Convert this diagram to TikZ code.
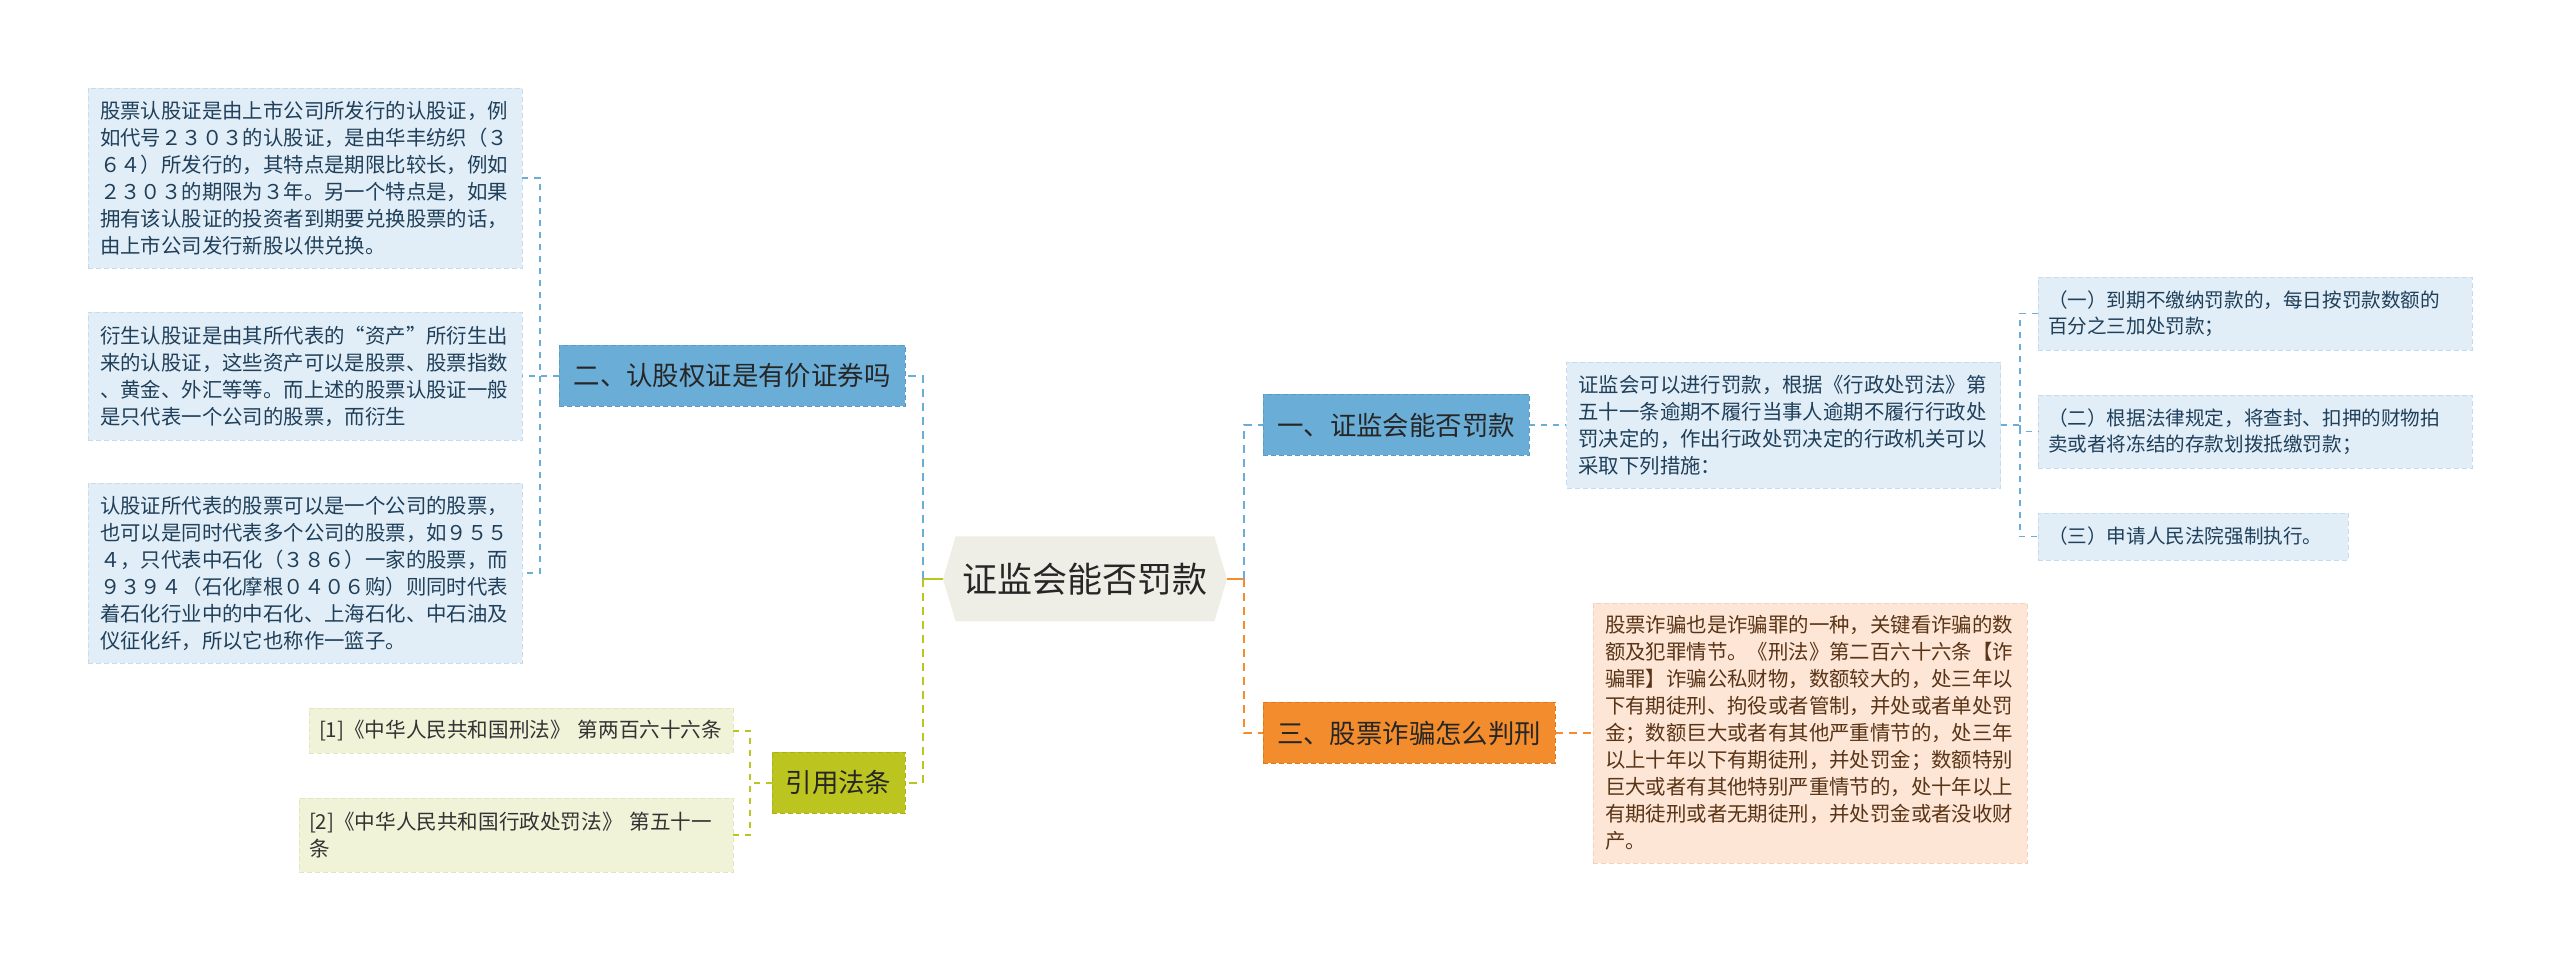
\documentclass[tikz,border=0pt]{standalone}
\usepackage{fontspec}
\setmainfont{Noto Sans CJK SC}
\usetikzlibrary{shapes.symbols, positioning}
\definecolor{paleblue}{HTML}{E1EEF7}
\definecolor{paleblueedge}{HTML}{C6DCEC}
\definecolor{bluetext}{HTML}{1F3F5A}
\definecolor{branchblue}{HTML}{6AADD6}
\definecolor{branchblueedge}{HTML}{5A9BC6}
\definecolor{olivegreen}{HTML}{BCC51F}
\definecolor{oliveedge}{HTML}{A9B114}
\definecolor{paleolive}{HTML}{F1F3D9}
\definecolor{paleoliveedge}{HTML}{E2E6BF}
\definecolor{branchorange}{HTML}{F28C2C}
\definecolor{orangeedge}{HTML}{E07818}
\definecolor{peach}{HTML}{FDE6D6}
\definecolor{peachedge}{HTML}{F4D1BA}
\definecolor{browntext}{HTML}{5A3416}
\definecolor{rootfill}{HTML}{EEEEE6}

\begin{document}
\begin{tikzpicture}[x=0.5pt, y=-0.5pt,
    box/.style={draw, dashed, dash pattern=on 2.5pt off 1.5pt, line width=0.4pt, align=left, inner ysep=0pt},
    detail/.style={box, fill=paleblue, draw=paleblueedge, text=bluetext, font=\fontsize{10.2}{13.5}\selectfont, inner xsep=6pt, text width=205pt},
    item/.style={box, fill=paleblue, draw=paleblueedge, text=bluetext, font=\fontsize{9.8}{13.2}\selectfont, inner xsep=5pt},
    law/.style={box, fill=paleolive, draw=paleoliveedge, text=black!80, font=\fontsize{10.3}{13.8}\selectfont, inner xsep=5pt},
    branch/.style={box, align=center, font=\fontsize{13.2}{16}\selectfont, text=black!85, minimum height=30.5pt},
    bluesub/.style={draw=branchblue, dashed, dash pattern=on 3pt off 3pt, line width=0.7pt},
    bluemain/.style={draw=branchblue, dashed, dash pattern=on 4pt off 3pt, line width=1.3pt},
    olivesub/.style={draw=olivegreen, dashed, dash pattern=on 3pt off 3pt, line width=0.7pt},
    olivemain/.style={draw=olivegreen, dashed, dash pattern=on 4pt off 3pt, line width=1.3pt},
    orangesub/.style={draw=branchorange, dashed, dash pattern=on 4pt off 3pt, line width=0.9pt},
    orangemain/.style={draw=branchorange, dashed, dash pattern=on 4pt off 3pt, line width=1.3pt}]
    \useasboundingbox (0,0) rectangle (2560,961);

    % 中心主题
    \node[shape=signal, signal to=west and east, signal pointer angle=147, fill=rootfill,
          minimum width=142pt, minimum height=42.5pt, inner sep=0pt,
          font=\fontsize{17.5}{20}\selectfont, text=black!85] (root) at (1085,579) {证监会能否罚款};

    % 左侧分支
    \node[branch, fill=branchblue, draw=branchblueedge, minimum width=173pt] (b2) at (732,376) {二、认股权证是有价证券吗};
    \node[branch, fill=olivegreen, draw=oliveedge, minimum width=66.5pt] (cite) at (838.5,783) {引用法条};

    \node[detail, minimum height=90pt] (d1) at (305,178) {股票认股证是由上市公司所发行的认股证，例\\如代号２３０３的认股证，是由华丰纺织（３\\６４）所发行的，其特点是期限比较长，例如\\２３０３的期限为３年。另一个特点是，如果\\拥有该认股证的投资者到期要兑换股票的话，\\由上市公司发行新股以供兑换。};
    \node[detail, minimum height=64pt] (d2) at (305,376) {衍生认股证是由其所代表的“资产”所衍生出\\来的认股证，这些资产可以是股票、股票指数\\、黄金、外汇等等。而上述的股票认股证一般\\是只代表一个公司的股票，而衍生};
    \node[detail, minimum height=90pt] (d3) at (305,573) {认股证所代表的股票可以是一个公司的股票，\\也可以是同时代表多个公司的股票，如９５５\\４，只代表中石化（３８６）一家的股票，而\\９３９４（石化摩根０４０６购）则同时代表\\着石化行业中的中石化、上海石化、中石油及\\仪征化纤，所以它也称作一篮子。};

    \node[law, text width=202pt, minimum height=22.5pt] (l1) at (521,731) {[1]《中华人民共和国刑法》~第两百六十六条};
    \node[law, text width=207pt, minimum height=37pt] (l2) at (516,835) {[2]《中华人民共和国行政处罚法》 第五十一\\条};

    % 右侧分支
    \node[branch, fill=branchblue, draw=branchblueedge, minimum width=133pt] (b1) at (1396,425) {一、证监会能否罚款};
    \node[branch, fill=branchorange, draw=orangeedge, minimum width=146pt] (b3) at (1409,733) {三、股票诈骗怎么判刑};

    \node[detail, minimum height=63pt] (c1) at (1783.5,425) {证监会可以进行罚款，根据《行政处罚法》第\\五十一条逾期不履行当事人逾期不履行行政处\\罚决定的，作出行政处罚决定的行政机关可以\\采取下列措施：};
    \node[item, text width=207pt, minimum height=36.5pt] (s1) at (2255,313.5) {（一）到期不缴纳罚款的，每日按罚款数额的\\百分之三加处罚款；};
    \node[item, text width=207pt, minimum height=36.5pt] (s2) at (2255,431.5) {（二）根据法律规定，将查封、扣押的财物拍\\卖或者将冻结的存款划拨抵缴罚款；};
    \node[item, text width=145pt, minimum height=23.5pt] (s3) at (2193,536.5) {（三）申请人民法院强制执行。};

    \node[detail, fill=peach, draw=peachedge, text=browntext, minimum height=130pt] (c3) at (1810,733) {股票诈骗也是诈骗罪的一种，关键看诈骗的数\\额及犯罪情节。《刑法》第二百六十六条【诈\\骗罪】诈骗公私财物，数额较大的，处三年以\\下有期徒刑、拘役或者管制，并处或者单处罚\\金；数额巨大或者有其他严重情节的，处三年\\以上十年以下有期徒刑，并处罚金；数额特别\\巨大或者有其他特别严重情节的，处十年以上\\有期徒刑或者无期徒刑，并处罚金或者没收财\\产。};

    % 连线
    \coordinate (rl) at (923,579);
    \coordinate (rr) at (1244,579);
    \coordinate (ll) at (540,376);
    \coordinate (cl) at (750,783);
    \coordinate (sr) at (2020,425);

    \draw[olivegreen, line width=1.3pt] (root.west) -- (rl);
    \draw[bluemain] (rl) |- (b2.east);
    \draw[olivemain] (rl) |- (cite.east);
    \draw[bluesub] (b2.west) -- (d2.east);
    \draw[bluesub] (d1.east) -| (ll) |- (d3.east);
    \draw[olivesub] (cite.west) -- (cl);
    \draw[olivesub] (l1.east) -| (cl) |- (l2.east);

    \draw[branchorange, line width=1.3pt] (root.east) -- (rr);
    \draw[bluemain] (rr) |- (b1.west);
    \draw[orangemain] (rr) |- (b3.west);
    \draw[bluesub] (b1.east) -- (c1.west);
    \draw[bluesub] (c1.east) -- (sr);
    \draw[bluesub] (s1.west) -| (sr) |- (s3.west);
    \draw[bluesub] (sr) |- (s2.west);
    \draw[orangesub] (b3.east) -- (c3.west);
\end{tikzpicture}
\end{document}
